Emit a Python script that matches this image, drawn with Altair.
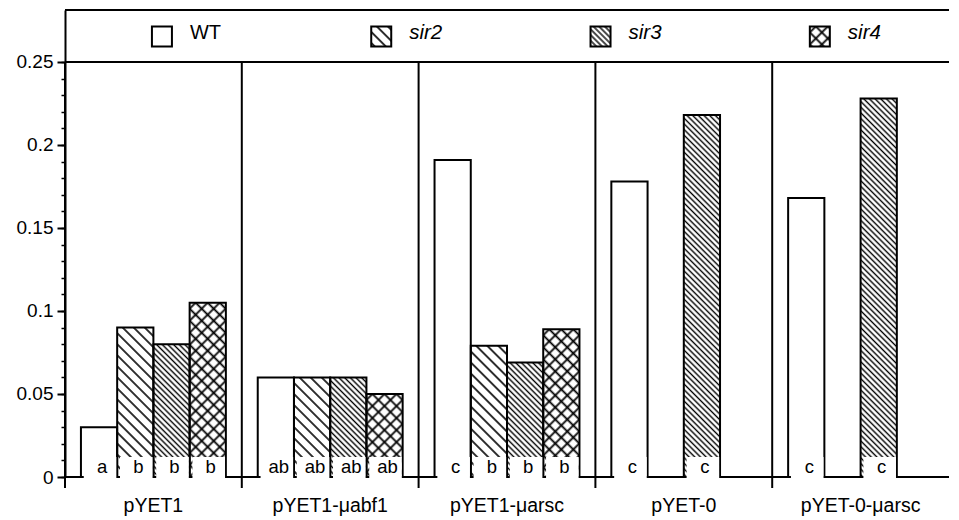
import base64
import altair as alt
import pandas as pd

# ---------------- data ----------------
groups = ["pYET1", "pYET1-μabf1", "pYET1-μarsc", "pYET-0", "pYET-0-μarsc"]
series = ["WT", "sir2", "sir3", "sir4"]

wt_values = [0.030, 0.060, 0.191, 0.178, 0.168]
sir2_values = [0.090, 0.060, 0.079, None, None]
sir3_values = [0.080, 0.060, 0.069, 0.218, 0.228]
sir4_values = [0.105, 0.050, 0.089, None, None]

wt_letters = ["a", "ab", "c", "c", "c"]
sir2_letters = ["b", "ab", "b", None, None]
sir3_letters = ["b", "ab", "b", "c", "c"]
sir4_letters = ["b", "ab", "b", None, None]

y_major_ticks = [0, 0.05, 0.1, 0.15, 0.2, 0.25]
y_minor_ticks = [0, 0.01, 0.02, 0.03, 0.04, 0.05, 0.06, 0.07, 0.08, 0.09, 0.1,
                 0.11, 0.12, 0.13, 0.14, 0.15, 0.16, 0.17, 0.18, 0.19, 0.2,
                 0.21, 0.22, 0.23, 0.24, 0.25]

# ---------------- layout constants ----------------
Y_TOP = 0.2813          # top frame of the plot (legend box above 0.25)
FRAME_LINES = [0, 0.25, Y_TOP]
SEP_BOTTOM = -0.0066    # group separators poke below the baseline (tick)
XLABEL_Y = -0.0172      # category labels under the baseline
LEGEND_SYMBOL_Y = 0.2654
LEGEND_TEXT_Y = 0.2675
LETTER_Y = 0.0058
FONT = "Liberation Sans"

all_values = [wt_values, sir2_values, sir3_values, sir4_values]
all_letters = [wt_letters, sir2_letters, sir3_letters, sir4_letters]
rows = []
for s, vals, lets in zip(series, all_values, all_letters):
    for g, v, l in zip(groups, vals, lets):
        if v is not None:
            rows.append({"group": g, "series": s, "value": v, "letter": l})
bars = pd.DataFrame(rows)
groups_df = pd.DataFrame({"group": groups})
frame_df = pd.DataFrame({"v": FRAME_LINES})
legend_df = pd.DataFrame({"series": series, "idx": list(range(len(series)))})


# ---------------- hatch textures ----------------
def hatch(spacing, width, cross=False):
    h = spacing / 2
    lines = (f"<line x1='{h}' y1='0' x2='{h}' y2='{spacing}' stroke='black' "
             f"stroke-width='{width}'/>")
    if cross:
        lines += (f"<line x1='0' y1='{h}' x2='{spacing}' y2='{h}' stroke='black' "
                  f"stroke-width='{width}'/>")
    svg = ("<svg xmlns='http://www.w3.org/2000/svg' width='100%' height='100%'>"
           f"<defs><pattern id='p' width='{spacing}' height='{spacing}' "
           "patternUnits='userSpaceOnUse' patternTransform='rotate(-45)'>"
           f"{lines}</pattern></defs>"
           "<rect width='100%' height='100%' fill='white'/>"
           "<rect width='100%' height='100%' fill='url(#p)'/></svg>")
    return "data:image/svg+xml;base64," + base64.b64encode(svg.encode()).decode()


HATCH = {
    "sir2": hatch(7.8, 1.6),
    "sir3": hatch(4.0, 1.4),
    "sir4": hatch(8.5, 1.8, cross=True),
}
HATCHED = ["sir2", "sir3", "sir4"]

# white label box under each bar (custom symbol path, shifted right)
BOX_PATH = "M-0.85,-1.11H0.96V0.11H-0.85Z"

# ---------------- scales & axes ----------------
Y_SCALE = alt.Scale(domain=[0, Y_TOP], nice=False, zero=True)
X_SCALE = alt.Scale(type="band", domain=groups, paddingInner=0, paddingOuter=0)
XO_SCALE = alt.Scale(type="band", domain=series, paddingInner=0, paddingOuter=0.44)

y_major = alt.Axis(title=None, orient="left", values=y_major_ticks,
                   labelExpr="format(datum.value, '.2~f')",
                   labelFont=FONT, labelFontSize=19, labelColor="black",
                   labelPadding=4, tickSize=8, tickWidth=2, tickColor="black",
                   domainWidth=2, domainColor="black", grid=False)
y_minor = alt.Axis(title=None, orient="left", values=y_minor_ticks, labels=False,
                   tickSize=4, tickWidth=1.5, tickColor="black", domain=False,
                   grid=False)


def X():
    return alt.X("group:N", scale=X_SCALE, sort=groups, title=None, axis=None)


XO = alt.XOffset("series:N", scale=XO_SCALE, sort=series)

# ---------------- main panel ----------------
frame = alt.Chart(frame_df).mark_rule(color="black", strokeWidth=2).encode(
    y=alt.Y("v:Q", scale=Y_SCALE, axis=None)
)

# group separators (from just below the baseline up to the 0.25 line)
separators = alt.Chart(groups_df).mark_rule(color="black", strokeWidth=2).encode(
    x=alt.X("group:N", scale=X_SCALE, sort=groups, bandPosition=0, axis=None),
    y=alt.Y(datum=SEP_BOTTOM, scale=Y_SCALE, axis=y_minor),
    y2=alt.datum(0.25),
)

# category labels
xlabels = alt.Chart(groups_df).mark_text(
    font=FONT, fontSize=19.5, color="black", baseline="middle", align="center"
).encode(
    x=X(), y=alt.Y(datum=XLABEL_Y, scale=Y_SCALE, axis=None), text="group:N"
)

base = alt.Chart(bars)

hatch_layers = [
    base.transform_filter(alt.datum.series == s)
    .mark_image(url=HATCH[s], aspect=False)
    .encode(x=X(), xOffset=XO,
            y=alt.Y("value:Q", scale=Y_SCALE, axis=None), y2=alt.datum(0))
    for s in HATCHED
]

outline = base.mark_bar(fillOpacity=0, stroke="black", strokeWidth=2).encode(
    x=X(), xOffset=XO,
    y=alt.Y("value:Q", scale=Y_SCALE, axis=y_major),
)

boxes = base.mark_point(shape=BOX_PATH, size=1296, filled=True, color="white",
                        opacity=1, strokeWidth=0).encode(
    x=X(), xOffset=XO, y=alt.Y(datum=0, scale=Y_SCALE, axis=None)
)

letters = base.mark_text(font=FONT, fontSize=18.5, color="black", dx=3,
                         baseline="middle").encode(
    x=X(), xOffset=XO,
    y=alt.Y(datum=LETTER_Y, scale=Y_SCALE, axis=None),
    text="letter:N",
)

main = alt.layer(frame, separators, xlabels, *hatch_layers, outline, boxes, letters
                 ).resolve_axis(y="independent")

# ---------------- legend (inside top box) ----------------
LX = alt.X("idx:Q", scale=alt.Scale(domain=[-0.442, 3.589], nice=False, zero=False),
           axis=None)
leg = alt.Chart(legend_df)
legend_imgs = [
    leg.transform_filter(alt.datum.series == s)
    .mark_image(url=HATCH[s], width=20, height=20, aspect=False)
    .encode(x=LX, y=alt.Y(datum=LEGEND_SYMBOL_Y, scale=Y_SCALE, axis=None))
    for s in HATCHED
]
legend_box = leg.mark_point(shape="square", size=400, filled=False, color="black",
                            strokeWidth=2, opacity=1).encode(
    x=LX, y=alt.Y(datum=LEGEND_SYMBOL_Y, scale=Y_SCALE, axis=None)
)
legend_wt = leg.transform_filter(alt.datum.series == "WT").mark_text(
    align="left", dx=28, font=FONT, fontSize=20, color="black", baseline="middle"
).encode(x=LX, y=alt.Y(datum=LEGEND_TEXT_Y, scale=Y_SCALE, axis=None), text="series:N")
legend_sir = leg.transform_filter(alt.datum.series != "WT").mark_text(
    align="left", dx=28, font=FONT, fontSize=20.5, fontStyle="italic", color="black",
    baseline="middle"
).encode(x=LX, y=alt.Y(datum=LEGEND_TEXT_Y, scale=Y_SCALE, axis=None), text="series:N")

legend = alt.layer(*legend_imgs, legend_box, legend_wt, legend_sir)

chart = alt.layer(main, legend).resolve_scale(x="independent").properties(
    width=884, height=467,
    padding={"left": 57, "top": 2, "right": 2, "bottom": 40},
    autosize=alt.AutoSizeParams(type="none"),
).configure_view(stroke="transparent")

chart.save("out.html", embed_options={"renderer": "svg", "actions": False})
